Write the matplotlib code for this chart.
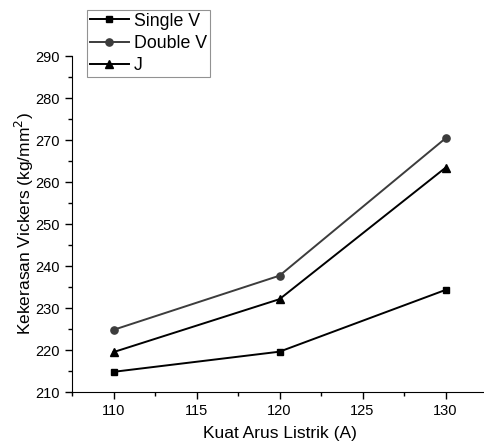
import numpy as np
import matplotlib.pyplot as plt

plt.rcParams['font.family'] = ['Liberation Sans', 'DejaVu Sans']

arus = [110, 120, 130]
single_v = [214.8, 219.6, 234.3]
double_v = [224.8, 237.7, 270.4]
j_groove = [219.5, 232.1, 263.4]

fig = plt.figure(figsize=(4.84, 4.45), dpi=100)
ax = fig.add_axes([72/484, 53/445, 415/484, 336/445])

ax.plot(arus, single_v, color='black', lw=1.4, marker='s', ms=4.6, label='Single V')
ax.plot(arus, double_v, color='#3c3c3c', lw=1.4, marker='o', ms=5.2, label='Double V')
ax.plot(arus, j_groove, color='black', lw=1.4, marker='^', ms=6, label='J')

ax.set_xlim(107.5, 132.5)
ax.set_ylim(210, 290)
ax.set_xticks([110, 115, 120, 125, 130])
ax.set_xticks(np.arange(107.5, 132.6, 2.5), minor=True)
ax.set_yticks(np.arange(210, 291, 10))
ax.set_yticks(np.arange(215, 290, 10), minor=True)
ax.spines['top'].set_visible(False)
ax.spines['right'].set_visible(False)
ax.tick_params(which='major', direction='out', length=5, width=1, labelsize=10.5)
ax.tick_params(which='minor', direction='out', length=3, width=1)

ax.set_xlabel('Kuat Arus Listrik (A)', fontsize=12.5, labelpad=6)
ax.set_ylabel('Kekerasan Vickers (kg/mm$^2$)', fontsize=12.5, labelpad=0)

leg = fig.legend(loc='upper left', bbox_to_anchor=(87/484, 1 - 10/445), fontsize=12.8,
                 frameon=True, fancybox=False, edgecolor='#777777', handlelength=2.2,
                 labelspacing=0.3, borderpad=0.15, handletextpad=0.3, borderaxespad=0)
leg.get_frame().set_linewidth(0.8)

fig.savefig('out.png', dpi=100)
